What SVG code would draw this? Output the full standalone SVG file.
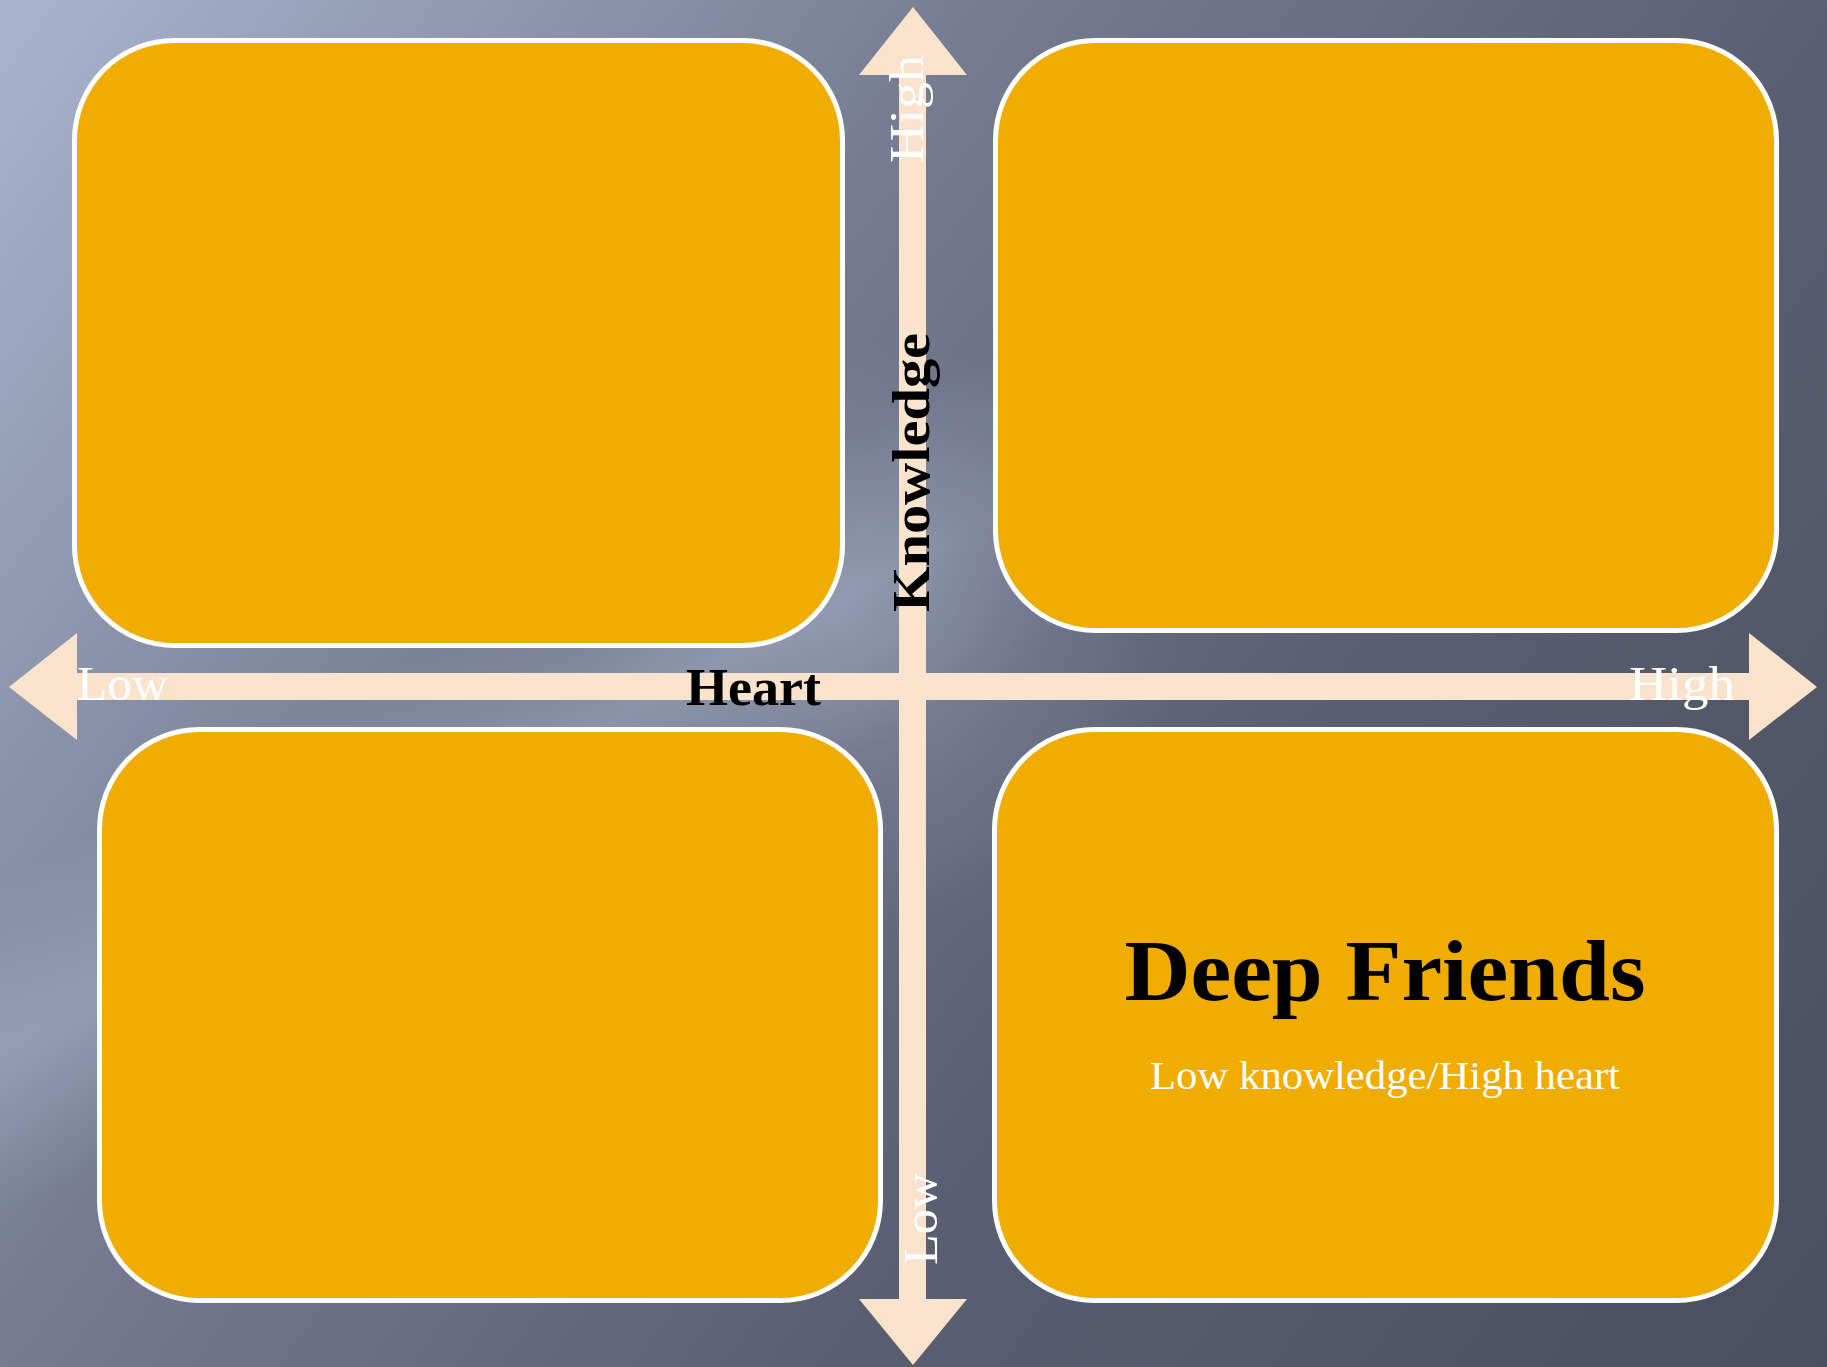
<svg xmlns="http://www.w3.org/2000/svg" width="1827" height="1367" viewBox="0 0 1827 1367">
<style>
.box{fill:#f0ad00;stroke:#ffffff;stroke-width:5}
.arrow{fill:#f9e3cc}
.lbl{font-family:"Liberation Serif","DejaVu Serif",serif;fill:#ffffff;font-size:48px}
.axis{font-family:"Liberation Serif","DejaVu Serif",serif;fill:#000000;font-weight:bold;font-size:52px}
</style>
<defs>
<linearGradient id="bg" x1="0" y1="0" x2="1827" y2="1367" gradientUnits="userSpaceOnUse">
<stop offset="0" stop-color="#aab4cf"/>
<stop offset="0.36" stop-color="#747b90"/>
<stop offset="0.64" stop-color="#5a6071"/>
<stop offset="1" stop-color="#4a4f60"/>
</linearGradient>
<linearGradient id="streak" x1="579" y1="568" x2="721" y2="832" gradientUnits="userSpaceOnUse">
<stop offset="0" stop-color="#b4bcd6" stop-opacity="0"/>
<stop offset="0.5" stop-color="#b4bcd6" stop-opacity="0.4"/>
<stop offset="1" stop-color="#b4bcd6" stop-opacity="0"/>
</linearGradient>
<linearGradient id="fade" x1="850" y1="0" x2="1150" y2="0" gradientUnits="userSpaceOnUse">
<stop offset="0" stop-color="#fff"/>
<stop offset="1" stop-color="#000"/>
</linearGradient>
<mask id="streakMask" maskUnits="userSpaceOnUse" x="0" y="0" width="1827" height="1367">
<rect x="0" y="0" width="1827" height="1367" fill="url(#fade)"/>
</mask>
<radialGradient id="glow" cx="880" cy="640" r="300" gradientUnits="userSpaceOnUse">
<stop offset="0" stop-color="#b0b8d2" stop-opacity="0.3"/>
<stop offset="1" stop-color="#b0b8d2" stop-opacity="0"/>
</radialGradient>
</defs>
<rect x="0" y="0" width="1827" height="1367" fill="url(#bg)"/>
<rect x="0" y="0" width="1827" height="1367" fill="url(#streak)" mask="url(#streakMask)"/>
<rect x="0" y="0" width="1827" height="1367" fill="url(#glow)"/>
<g id="node-tl"><rect class="box" x="74.5" y="40.5" width="768" height="605" rx="100" ry="100"/></g>
<g id="node-tr"><rect class="box" x="995.5" y="40.5" width="781" height="590" rx="100" ry="100"/></g>
<g id="node-bl"><rect class="box" x="99.5" y="729.5" width="781" height="571" rx="100" ry="100"/></g>
<g id="node-br">
<rect class="box" x="994.5" y="729.5" width="782" height="571" rx="100" ry="100"/>
<text x="1385" y="1000" text-anchor="middle" font-family="'Liberation Serif','DejaVu Serif',serif" font-weight="bold" font-size="86" fill="#000" textLength="521" lengthAdjust="spacingAndGlyphs">Deep Friends</text>
<text x="1385" y="1089" text-anchor="middle" font-family="'Liberation Serif','DejaVu Serif',serif" font-size="41" fill="#fff" textLength="470" lengthAdjust="spacingAndGlyphs">Low knowledge/High heart</text>
</g>
<g id="connectors">
<polygon class="arrow" points="9,687 77,633 77,673 1749,673 1749,633 1817,687 1749,740 1749,700 77,700 77,740"/>
<polygon class="arrow" points="913,7 967,75 926,75 926,1299 967,1299 913,1365 859,1299 899,1299 899,75 859,75"/>
</g>
<g id="labels">
<text class="lbl" x="77" y="700" textLength="91" lengthAdjust="spacingAndGlyphs">Low</text>
<text class="lbl" x="1629" y="700" textLength="106" lengthAdjust="spacingAndGlyphs">High</text>
<text class="lbl" transform="translate(923,163) rotate(-90)" textLength="108" lengthAdjust="spacingAndGlyphs">High</text>
<text class="lbl" transform="translate(937,1265) rotate(-90)" textLength="92" lengthAdjust="spacingAndGlyphs">Low</text>
<text class="axis" transform="translate(929,612) rotate(-90)" textLength="279" lengthAdjust="spacingAndGlyphs">Knowledge</text>
<text class="axis" x="686" y="705" textLength="135" lengthAdjust="spacingAndGlyphs">Heart</text>
</g>
</svg>
